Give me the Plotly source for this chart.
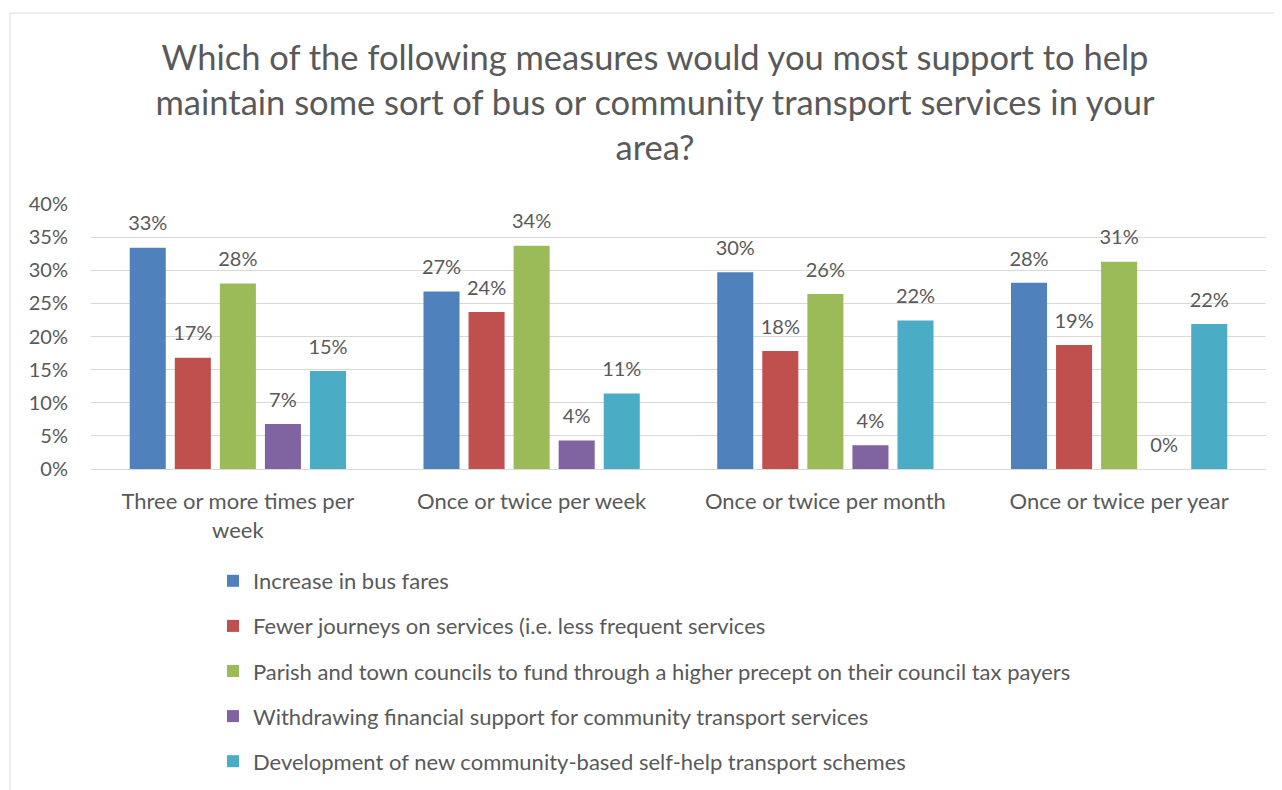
import plotly.graph_objects as go

categories = ["Three or more times per<br>week", "Once or twice per week",
              "Once or twice per month", "Once or twice per year"]
series_names = [
    "Increase in bus fares",
    "Fewer journeys on services (i.e. less frequent services",
    "Parish and town councils to fund through a higher precept on their council tax payers",
    "Withdrawing financial support for community transport services",
    "Development of new community-based self-help transport schemes",
]
fares = [0.334, 0.268, 0.297, 0.281]
fewer = [0.168, 0.237, 0.178, 0.187]
parish = [0.280, 0.337, 0.264, 0.313]
withdraw = [0.068, 0.043, 0.036, 0.0]
develop = [0.148, 0.114, 0.224, 0.219]
series_values = [fares, fewer, parish, withdraw, develop]
colors = ["#4F81BD", "#C0504D", "#9BBB59", "#8064A2", "#4BACC6"]
ytick_vals = [0, 0.05, 0.10, 0.15, 0.20, 0.25, 0.30, 0.35, 0.40]

FONT = "Lato"
GRAY = "#595959"
# page body has an 8px margin, so the figure is drawn 8px in from the window edge
W, H = 1274, 782
ML, MR, MT, MB = 83, 16, 196, 321
BARGAP = 0.233

fig = go.Figure()
for i, (name, vals) in enumerate(zip(series_names, series_values)):
    fig.add_trace(go.Bar(
        x=categories, y=vals, name=name, marker_color=colors[i],
        marker_line_width=0, legendgroup=str(i), offsetgroup=str(i),
    ))
for i, vals in enumerate(series_values):
    fig.add_trace(go.Scatter(
        x=categories, y=vals, mode="markers+text", text=[f"{v:.0%}" for v in vals],
        marker=dict(size=18, color="rgba(0,0,0,0)"),
        textposition="top center", textfont=dict(family=FONT, size=20, color=GRAY),
        showlegend=False, offsetgroup=str(i), hoverinfo="skip", cliponaxis=False,
    ))

pw = W - ML - MR
ph = H - MT - MB
fig.update_layout(
    width=W, height=H,
    margin=dict(l=ML, r=MR, t=MT, b=MB, autoexpand=False),
    paper_bgcolor="white", plot_bgcolor="white",
    barmode="group", bargap=BARGAP, bargroupgap=0.2,
    scattermode="group", scattergap=BARGAP,
    font=dict(family=FONT, color=GRAY, size=20),
    title=dict(
        text="Which of the following measures would you most support to help<br>maintain some sort of bus or community transport services in your<br>area?",
        x=647 / W, xanchor="center", xref="container",
        y=1 - 62 / H, yanchor="top", yref="container",
        font=dict(family=FONT, size=34.5, color=GRAY),
    ),
    xaxis=dict(showgrid=False, showline=True, linecolor="#D9D9D9", linewidth=1,
               tickfont=dict(family=FONT, size=22, color=GRAY), ticks="",
               ticklabelstandoff=13, automargin=False),
    yaxis=dict(range=[0, 0.40], tickvals=ytick_vals, tickformat=".0%",
               showgrid=True, gridcolor="#D9D9D9", gridwidth=1, zeroline=False,
               tickfont=dict(family=FONT, size=20, color=GRAY), ticks="",
               ticklabelstandoff=22, automargin=False),
    showlegend=True,
    legend=dict(orientation="v", x=(205 - ML) / pw, xanchor="left",
                y=-91 / ph, yanchor="top", tracegroupgap=13.5,
                font=dict(family=FONT, size=22, color=GRAY),
                bgcolor="rgba(0,0,0,0)"),
    shapes=[dict(type="rect", xref="paper", yref="paper",
                 x0=(2 - ML) / pw, x1=(W + 5 - ML) / pw,
                 y0=-(H + 5 - MT - ph) / ph, y1=1 + (MT - 5) / ph,
                 line=dict(color="#D9D9D9", width=1), layer="below")],
)
fig.write_html("out.html")
